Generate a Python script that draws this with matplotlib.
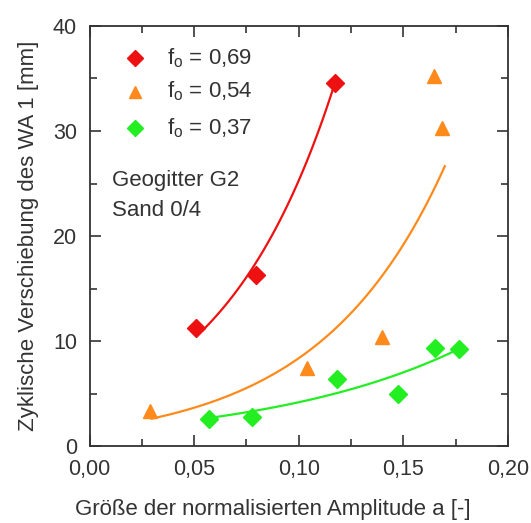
import numpy as np
import matplotlib
matplotlib.use("Agg")
import matplotlib.pyplot as plt
from matplotlib.ticker import MultipleLocator, FuncFormatter

plt.rcParams['font.family'] = ['Liberation Sans', 'DejaVu Sans']

# measured points
red_x = [0.051, 0.0796, 0.1172]
red_y = [11.2, 16.3, 34.6]
orange_x = [0.0288, 0.1039, 0.1396, 0.1645, 0.1685]
orange_y = [3.3, 7.4, 10.35, 35.2, 30.3]
green_x = [0.0571, 0.0777, 0.1185, 0.1475, 0.1653, 0.1764]
green_y = [2.55, 2.8, 6.4, 4.95, 9.3, 9.25]

# exponential fit curves y = a * exp(b * (x - x_ref))
red_fit = dict(a=11.0, b=18.1, x0=0.054, x1=0.1172, x_ref=0.054)
orange_fit = dict(a=2.6, b=16.6, x0=0.0296, x1=0.1698, x_ref=0.0296)
green_fit = dict(a=2.65, b=10.4, x0=0.0564, x1=0.173, x_ref=0.0564)

labels = ['0,69', '0,54', '0,37']
c_red, c_orange, c_green = '#ee1111', '#ff8a1c', '#22ee22'
txt = '#333333'

fig = plt.figure(figsize=(5.31, 5.23), dpi=100)
ax = fig.add_axes([0.1686, 0.1472, 0.7881, 0.8031])


def fit_curve(f):
    xs = np.linspace(f['x0'], f['x1'], 100)
    return xs, f['a'] * np.exp(f['b'] * (xs - f['x_ref']))


for f, c in [(red_fit, c_red), (orange_fit, c_orange), (green_fit, c_green)]:
    xs, ys = fit_curve(f)
    ax.plot(xs, ys, color=c, lw=1.6, zorder=2)

ax.plot(red_x, red_y, 'D', color=c_red, ms=9, ls='none', zorder=3)
ax.plot(orange_x, orange_y, '^', color=c_orange, ms=10, ls='none', zorder=3)
ax.plot(green_x, green_y, 'D', color=c_green, ms=9, ls='none', zorder=3)

# legend drawn by hand
leg_y = [36.95, 33.75, 30.3]
for yy, c, m, lab in zip(leg_y, [c_red, c_orange, c_green], ['D', '^', 'D'], labels):
    ax.plot([0.0217], [yy], m, color=c, ms=8 if m == 'D' else 9, clip_on=False)
    ax.text(0.0368, yy, r'f$_{\mathregular{o}}$ = ' + lab, fontsize=16,
            va='center', ha='left', color=txt)

ax.text(0.0108, 25.3, 'Geogitter G2', fontsize=16, va='center', color=txt)
ax.text(0.0108, 22.4, 'Sand 0/4', fontsize=16, va='center', color=txt)

ax.set_xlim(0, 0.20)
ax.set_ylim(0, 40)
ax.xaxis.set_major_locator(MultipleLocator(0.05))
ax.xaxis.set_minor_locator(MultipleLocator(0.025))
ax.yaxis.set_major_locator(MultipleLocator(10))
ax.yaxis.set_minor_locator(MultipleLocator(5))
ax.xaxis.set_major_formatter(FuncFormatter(lambda v, _: f'{v:.2f}'.replace('.', ',')))
ax.tick_params(which='both', direction='in', top=True, right=True,
               labelsize=15.5, labelcolor=txt, color=txt)
ax.tick_params(which='major', length=8, width=1.2, pad=9)
ax.tick_params(which='minor', length=5, width=1.2)
for s in ax.spines.values():
    s.set_linewidth(1.3)
    s.set_color(txt)

ax.set_xlabel('Größe der normalisierten Amplitude a [-]', fontsize=16,
              color=txt)
ax.set_ylabel('Zyklische Verschiebung des WA 1 [mm]', fontsize=16,
              color=txt, labelpad=10)
ax.xaxis.set_label_coords(0.438, -0.125)

fig.savefig('out.png', dpi=100)
